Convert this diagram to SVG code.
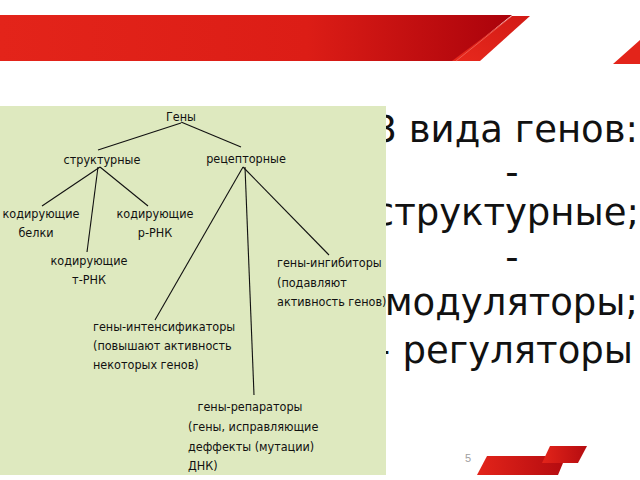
<svg xmlns="http://www.w3.org/2000/svg" width="640" height="480" viewBox="0 0 640 480">
<defs>
<linearGradient id="band" x1="0" y1="0" x2="1" y2="0">
<stop offset="0" stop-color="#e3241a"/>
<stop offset="0.6" stop-color="#dc1d16"/>
<stop offset="1" stop-color="#aa020b"/>
</linearGradient>
<linearGradient id="fold" x1="0" y1="1" x2="1" y2="0">
<stop offset="0" stop-color="#e8291d"/>
<stop offset="1" stop-color="#d21a15"/>
</linearGradient>
<linearGradient id="logo" x1="0" y1="0" x2="1" y2="0">
<stop offset="0" stop-color="#e3241a"/>
<stop offset="1" stop-color="#b50c10"/>
</linearGradient>
<style>
.big{font-family:"DejaVu Sans",Verdana,sans-serif;font-size:37px;fill:#111;text-anchor:end}
.mid{text-anchor:middle}
.t{font-family:"DejaVu Sans Condensed","DejaVu Sans",sans-serif;font-size:12.5px;fill:#111}
.c{text-anchor:middle}
.edge{stroke:#111;stroke-width:1.1;fill:none}
</style>
</defs>
<rect width="640" height="480" fill="#ffffff"/>
<g id="banner">
<polygon points="0,15 512,15 455,61 0,61" fill="url(#band)"/>
<polygon points="512,16 530,16 480,61 452,61" fill="url(#fold)"/>
<line x1="512" y1="16" x2="456" y2="61" stroke="#f0685e" stroke-width="0.8"/>
<polygon points="613,64 640,64 640,40" fill="#e3241a"/>
</g>
<g id="slide-text">
<text class="big" x="638" y="142">3 вида генов:</text>
<text class="big mid" x="512" y="185">-</text>
<text class="big" x="639" y="225">структурные;</text>
<text class="big mid" x="512" y="270">-</text>
<text class="big" x="638" y="315">модуляторы;</text>
<text class="big" x="390" y="363">-</text>
<text class="big" x="633" y="363">регуляторы</text>
</g>
<rect id="panel" x="0" y="106" width="386" height="369" fill="#dee9bf"/>
<g id="connectors">
<line class="edge" x1="181" y1="123" x2="98" y2="150"/>
<line class="edge" x1="181" y1="122" x2="241" y2="147"/>
<line class="edge" x1="100" y1="167" x2="42" y2="206"/>
<line class="edge" x1="100" y1="167" x2="148" y2="206"/>
<line class="edge" x1="98" y1="167" x2="87" y2="252" stroke-width="1.4"/>
<line class="edge" x1="243" y1="167" x2="329" y2="255"/>
<line class="edge" x1="243" y1="167" x2="155" y2="320"/>
<line class="edge" x1="245" y1="167" x2="254" y2="395" stroke-width="1.5"/>
</g>
<g id="node-genes"><text class="t c" x="181" y="121">Гены</text></g>
<g id="node-structural"><text class="t c" x="102" y="164">структурные</text></g>
<g id="node-receptor"><text class="t c" x="246" y="163">рецепторные</text></g>
<g id="node-proteins"><text class="t c" x="41" y="218">кодирующие</text><text class="t c" x="36" y="237">белки</text></g>
<g id="node-rrna"><text class="t c" x="155" y="218">кодирующие</text><text class="t c" x="155" y="237">р-РНК</text></g>
<g id="node-trna"><text class="t c" x="89" y="265">кодирующие</text><text class="t c" x="89" y="284">т-РНК</text></g>
<g id="node-inhibitors"><text class="t" x="277" y="267">гены-ингибиторы</text><text class="t" x="277" y="287">(подавляют</text><text class="t" x="277" y="306">активность генов)</text></g>
<g id="node-intensifiers"><text class="t" x="93" y="331">гены-интенсификаторы</text><text class="t" x="93" y="350">(повышают активность</text><text class="t" x="93" y="369">некоторых генов)</text></g>
<g id="node-repair"><text class="t c" x="250" y="411">гены-репараторы</text><text class="t" x="188" y="431">(гены, исправляющие</text><text class="t" x="188" y="451">деффекты (мутации)</text><text class="t" x="188" y="470">ДНК)</text></g>
<g id="footer">
<text x="468" y="462" font-family="Liberation Sans,sans-serif" font-size="11" fill="#a0a0a0" text-anchor="middle">5</text>
<polygon points="487,456 545,456 563,463 558,475 477,475" fill="url(#logo)"/>
<polygon points="550,446 587,446 578,463 542,463" fill="url(#logo)"/>
</g>
</svg>
